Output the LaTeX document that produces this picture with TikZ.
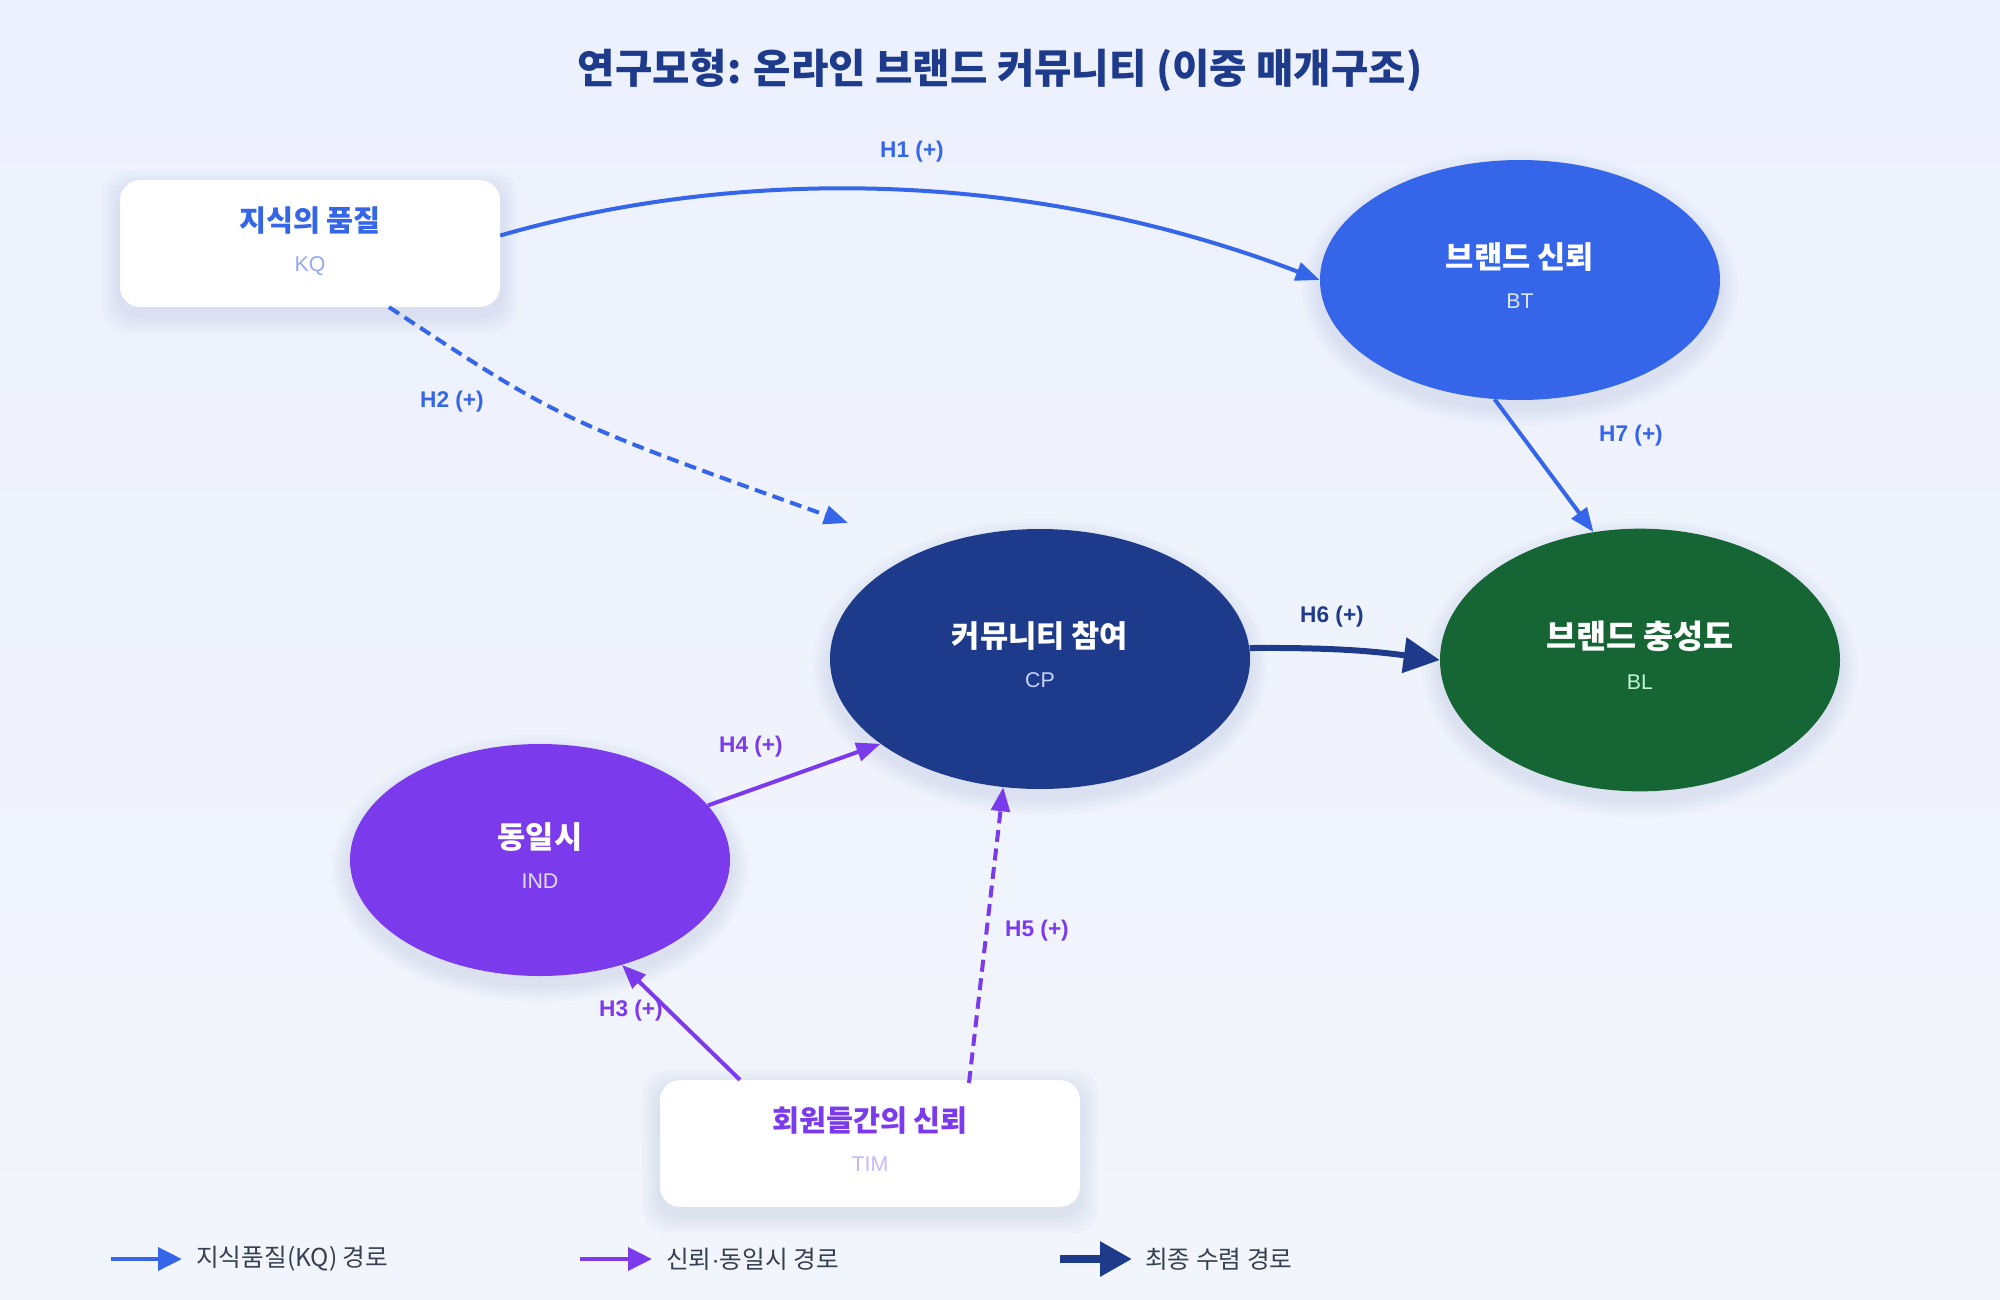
\documentclass[tikz,border=0pt]{standalone}
\usepackage{fontspec}
\setmainfont{Noto Sans CJK KR}
\newfontfamily\lat{Liberation Sans}
\usetikzlibrary{arrows.meta,shapes.geometric,calc,backgrounds}
\definecolor{bgtop}{HTML}{EDF1FD}
\definecolor{bgbot}{HTML}{F2F5FB}
\definecolor{cblue}{HTML}{3565E8}
\definecolor{cnavy}{HTML}{1E3A8A}
\definecolor{cgreen}{HTML}{166534}
\definecolor{cviolet}{HTML}{7C3AED}
\definecolor{shd}{HTML}{B4C0DE}
\definecolor{legtext}{HTML}{374151}
\definecolor{kqsub}{HTML}{95A8F2}
\definecolor{timsub}{HTML}{C9B6F8}
\definecolor{btsub}{HTML}{DCE5FD}
\definecolor{cpsub}{HTML}{C7D2FE}
\definecolor{blsub}{HTML}{BBF7D0}
\definecolor{indsub}{HTML}{E2DAFE}
\newcommand{\subtxt}[2]{{\lat\fontsize{16}{19}\selectfont\color{#1}#2\rule[-7pt]{0pt}{0pt}}}
\tikzset{
  oval/.style={ellipse, inner sep=0pt, align=center, text=white,
    font=\fontsize{23}{30}\selectfont},
  card/.style={rectangle, rounded corners=15pt, fill=white, inner sep=0pt,
    minimum width=285pt, minimum height=95pt, align=center,
    font=\fontsize{22}{30}\selectfont},
  lbl/.style={font=\lat\bfseries\fontsize{17}{20}\selectfont, inner sep=1pt},
  ablue/.style={draw=cblue, line width=3pt, -{Triangle[length=18pt,width=14pt]}},
  aviolet/.style={draw=cviolet, line width=3pt, -{Triangle[length=18pt,width=14pt]}},
  anavy/.style={draw=cnavy, line width=4.5pt, -{Triangle[length=27pt,width=26pt]}},
  dsh/.style={dash pattern=on 9pt off 5pt},
  legtxt/.style={anchor=west, text=legtext, font=\fontsize{18.5}{22}\selectfont, inner sep=0pt}
}
\begin{document}
\begin{tikzpicture}[x=0.75pt, y=-0.75pt]
\useasboundingbox (0,0) rectangle (2000,1300);

% title
\node[font=\fontsize{30.5}{36}\selectfont\bfseries, text=cnavy] (title) at (1000,70)
  {연구모형: 온라인 브랜드 커뮤니티 (이중 매개구조)};

% constructs
\node[card] (kq) at (310,243.5)
  {{\bfseries\color{cblue}지식의 품질}\\\subtxt{kqsub}{KQ}};
\node[card, minimum width=315pt] (tim) at (870,1143.5)
  {{\bfseries\color{cviolet}회원들간의 신뢰}\\\subtxt{timsub}{TIM}};
\node[oval, fill=cblue, minimum width=300pt, minimum height=180pt] (bt) at (1520,280)
  {{\bfseries 브랜드 신뢰}\\\subtxt{btsub}{BT}};
\node[oval, fill=cnavy, minimum width=315pt, minimum height=195pt] (cp) at (1040,659)
  {{\bfseries 커뮤니티 참여}\\\subtxt{cpsub}{CP}};
\node[oval, fill=cgreen, minimum width=300pt, minimum height=197pt,
      font=\fontsize{24.5}{31}\selectfont] (bl) at (1640,660)
  {{\bfseries 브랜드 충성도}\\\subtxt{blsub}{BL}};
\node[oval, fill=cviolet, minimum width=285pt, minimum height=174pt] (ind) at (540,860)
  {{\bfseries 동일시}\\\subtxt{indsub}{IND}};

% background and soft shadows
\begin{scope}[on background layer]
  \fill[top color=bgtop, bottom color=bgbot] (0,0) rectangle (2000,1300);
  \foreach \n/\rx/\ry in {bt/200/120, cp/210/130, bl/200/131, ind/190/116} {
    \foreach \k in {1,...,6} {
      \fill[shd, opacity=0.06] ($(\n.center)+(0,8)$) ellipse [x radius=\rx+\k*3, y radius=\ry+\k*3];
    }
  }
  \foreach \n in {kq, tim} {
    \foreach \k in {1,...,6} {
      \fill[shd, opacity=0.06, rounded corners=18pt]
        ($(\n.north west)+(-\k*3,-\k*3+8)$) rectangle ($(\n.south east)+(\k*3,\k*3+8)$);
    }
  }
\end{scope}

% paths
\draw[ablue] ($(kq.east)+(0,-8)$) .. controls (720,172) and (1010,162) .. (bt.west);
\node[lbl, text=cblue] (h1) at (912,152) {H1 (+)};

\coordinate (h2end) at (848,523);
\draw[ablue, dsh] ($(kq.south)+(79,0)$) .. controls (560,420) .. (h2end);
\node[lbl, text=cblue] (h2) at (452,402) {H2 (+)};

\draw[ablue] (bt.258) -- (bl.110);
\node[lbl, text=cblue] (h7) at (1631,436) {H7 (+)};

\draw[anavy] (cp.3) to[bend left=4] (bl.west);
\node[lbl, text=cnavy] (h6) at (1332,617) {H6 (+)};

\draw[aviolet] (ind.18) -- (cp.208);
\node[lbl, text=cviolet] (h4) at (751,747) {H4 (+)};

\draw[aviolet] ($(tim.north)+(-130,0)$) -- (ind.308);
\node[lbl, text=cviolet] (h3) at (631,1011) {H3 (+)};

\draw[aviolet, dsh] ($(tim.north)+(99,3)$) -- (cp.254);
\node[lbl, text=cviolet] (h5) at (1037,931) {H5 (+)};

% legend
\coordinate (lg1a) at (111,1259); \coordinate (lg1b) at (182,1259);
\coordinate (lg2a) at (580,1259); \coordinate (lg2b) at (652,1259);
\coordinate (lg3a) at (1060,1259); \coordinate (lg3b) at (1132,1259);
\draw[cblue, line width=3.5pt, -{Triangle[length=18pt,width=17pt]}] (lg1a) -- (lg1b);
\draw[cviolet, line width=3.5pt, -{Triangle[length=18pt,width=17pt]}] (lg2a) -- (lg2b);
\draw[cnavy, line width=6pt, -{Triangle[length=24pt,width=25pt]}] (lg3a) -- (lg3b);
\node[legtxt] (lg1) at (196,1259) {지식품질(KQ) 경로};
\node[legtxt] (lg2) at (666,1259) {신뢰{\lat ·}동일시 경로};
\node[legtxt] (lg3) at (1145,1259) {최종 수렴 경로};
\end{tikzpicture}
\end{document}
